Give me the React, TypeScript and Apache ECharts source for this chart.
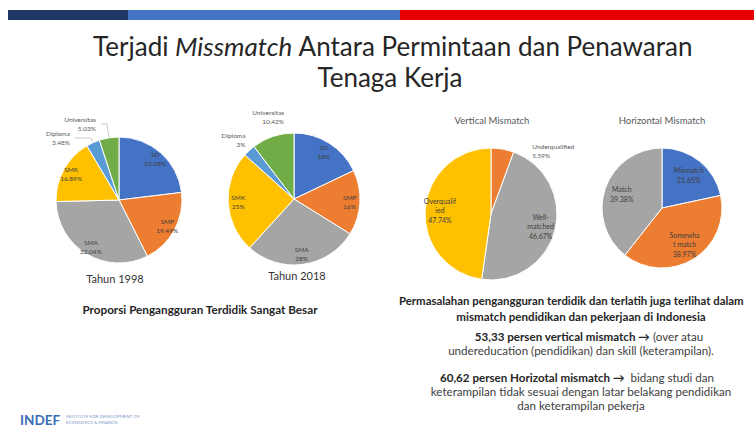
import React, { useEffect, useRef } from "react";
import * as echarts from "echarts";

// ---------- data ----------
const eduNames = ["SD", "SMP", "SMA", "SMK", "Diploma", "Universitas"];
const edu1998Values = [23.08, 19.49, 32.04, 16.89, 3.48, 5.03];
const edu2018Values = [18, 16, 28, 25, 3, 10.42];
const eduColors = ["#4472C4", "#ED7D31", "#A5A5A5", "#FFC000", "#5B9BD5", "#70AD47"];

const vertNames = ["Underqualified", "Well-matched", "Overqualified"];
const vertLabels = ["Underqualified", "Well-\nmatched", "Overqualif\nied"];
const vertValues = [5.59, 46.67, 47.74];
const vertColors = ["#ED7D31", "#A5A5A5", "#FFC000"];

const horzNames = ["Mismatch", "Somewhat match", "Match"];
const horzLabels = ["Mismatch", "Somewha\nt match", "Match"];
const horzValues = [21.65, 38.97, 39.38];
const horzColors = ["#4472C4", "#ED7D31", "#A5A5A5"];

const FONT = "Lato, 'Open Sans', sans-serif";

type Outside = {
  [k: number]: { length: number; length2: number; line: boolean; dx?: number; dy?: number };
};

function buildPie(
  names: string[],
  labels: string[],
  values: number[],
  colors: string[],
  center: [number, number],
  r: number,
  k: number,
  outside: Outside,
  fontSize: number
) {
  const fmt = (p: any) => `${labels[p.dataIndex]}\n${p.value}%`;
  const base = {
    type: "pie",
    center,
    radius: [0, r],
    startAngle: 90,
    clockwise: true,
    silent: true,
    avoidLabelOverlap: false,
    labelLayout: (p: any) => {
      const o = outside[p.dataIndex];
      return { hideOverlap: false, dx: o && o.dx ? o.dx : 0, dy: o && o.dy ? o.dy : 0 };
    },
    itemStyle: { borderColor: "#ffffff", borderWidth: 1 },
    label: { show: false },
    labelLine: { show: false },
    emphasis: { disabled: true },
    data: values.map((v, i) => {
      const o = outside[i];
      return {
        name: names[i],
        value: v,
        itemStyle: { color: colors[i] },
        label: o
          ? {
              show: true,
              position: "outside",
              formatter: fmt,
              fontSize: 6.5,
              lineHeight: 9,
              color: "#595959",
              fontFamily: FONT,
            }
          : { show: false },
        labelLine: o
          ? {
              show: o.line,
              length: o.length,
              length2: o.length2,
              lineStyle: { color: "#a6a6a6", width: 0.6 },
            }
          : { show: false },
      };
    }),
  };
  const overlay = {
    type: "pie",
    center,
    radius: [(2 * k - 1) * r, r],
    startAngle: 90,
    clockwise: true,
    silent: true,
    avoidLabelOverlap: false,
    labelLayout: { hideOverlap: false },
    itemStyle: { color: "rgba(0,0,0,0)", borderWidth: 0 },
    labelLine: { show: false },
    emphasis: { disabled: true },
    data: values.map((v, i) => ({
      name: names[i],
      value: v,
      itemStyle: { color: "rgba(0,0,0,0)" },
      label: outside[i]
        ? { show: false }
        : {
            show: true,
            position: "inside",
            formatter: fmt,
            fontSize,
            lineHeight: fontSize + 2.5,
            color: "#404040",
            fontFamily: FONT,
          },
    })),
  };
  return [base, overlay];
}

function txt(x: number, y: number, text: string, size: number, opts: any = {}) {
  return {
    type: "text",
    x,
    y,
    silent: true,
    style: {
      text,
      fill: opts.fill || "#262626",
      font: `${opts.italic ? "italic " : ""}${opts.bold ? "bold " : ""}${size}px ${FONT}`,
      align: opts.align || "center",
      verticalAlign: "middle",
      rich: opts.rich,
    },
  };
}

export default function App() {
  const ref = useRef<HTMLDivElement>(null);
  useEffect(() => {
    if (!ref.current) return;
    const chart = echarts.init(ref.current, undefined, { renderer: "svg" });
    const series = [
      ...buildPie(eduNames, eduNames, edu1998Values, eduColors, [119, 200], 63, 0.82,
        { 4: { length: 5, length2: 16, line: true }, 5: { length: 14, length2: 6, line: true } }, 6.5),
      ...buildPie(eduNames, eduNames, edu2018Values, eduColors, [294, 199], 66, 0.8,
        {
          4: { length: 10, length2: 2, line: false, dx: 10, dy: -3 },
          5: { length: 12, length2: 0, line: false, dx: 20, dy: -8 },
        }, 6.5),
      ...buildPie(vertNames, vertLabels, vertValues, vertColors, [491, 214], 66, 0.73,
        { 0: { length: 4, length2: 30, line: false, dx: -6, dy: 6 } }, 7),
      ...buildPie(horzNames, horzLabels, horzValues, horzColors, [662, 208], 60, 0.66, {}, 7),
    ];
    const richB = {
      b: { font: `bold 11.6px ${FONT}`, fill: "#262626" },
      n: { font: `11.6px ${FONT}`, fill: "#404040" },
    };
    const CX = 581;
    chart.setOption({
      animation: false,
      backgroundColor: "#ffffff",
      series,
      graphic: [
        { type: "rect", shape: { x: 8, y: 10, width: 120, height: 10 }, style: { fill: "#1F3864" }, silent: true },
        { type: "rect", shape: { x: 128, y: 10, width: 272, height: 10 }, style: { fill: "#4472C4" }, silent: true },
        { type: "rect", shape: { x: 400, y: 10, width: 354, height: 10 }, style: { fill: "#E60000" }, silent: true },
        {
          type: "text",
          x: 393,
          y: 46,
          silent: true,
          style: {
            text: "{a|Terjadi }{i|Missmatch}{a| Antara Permintaan dan Penawaran}",
            align: "center",
            verticalAlign: "middle",
            rich: {
              a: { font: `26px ${FONT}`, fill: "#262626" },
              i: { font: `italic 26px ${FONT}`, fill: "#262626" },
            },
          },
        },
        txt(390, 77, "Tenaga Kerja", 26),
        txt(115, 278, "Tahun 1998", 11, { fill: "#333333" }),
        txt(297, 275, "Tahun 2018", 11, { fill: "#333333" }),
        txt(492, 120, "Vertical Mismatch", 9.5, { fill: "#595959" }),
        txt(662, 120, "Horizontal Mismatch", 9.5, { fill: "#595959" }),
        txt(200, 309, "Proporsi Pengangguran Terdidik Sangat Besar", 11.7, { bold: true }),
        txt(399, 300, "Permasalahan pengangguran terdidik dan terlatih juga terlihat dalam", 11.4, { bold: true, align: "left" }),
        txt(CX, 316, "mismatch pendidikan dan pekerjaan di Indonesia", 11.6, { bold: true }),
        {
          type: "text", x: CX + 8, y: 336, silent: true,
          style: { text: "{b|53,33 persen vertical mismatch →}{n| (over atau}", align: "center", verticalAlign: "middle", rich: richB },
        },
        txt(CX, 350, "undereducation (pendidikan) dan skill (keterampilan).", 11.6, { fill: "#404040" }),
        {
          type: "text", x: CX - 4, y: 377, silent: true,
          style: { text: "{b|60,62 persen Horizotal mismatch →}{n|  bidang studi dan}", align: "center", verticalAlign: "middle", rich: richB },
        },
        txt(CX, 391, "keterampilan tidak sesuai dengan latar belakang pendidikan", 11.6, { fill: "#404040" }),
        txt(CX, 405, "dan keterampilan pekerja", 11.6, { fill: "#404040" }),
        txt(20, 420, "INDEF", 13.5, { bold: true, fill: "#3A6DB5", align: "left" }),
        txt(66, 416.5, "INSTITUTE FOR DEVELOPMENT OF", 4.5, { fill: "#7F9CC9", align: "left" }),
        txt(66, 422.5, "ECONOMICS & FINANCE", 4.5, { fill: "#7F9CC9", align: "left" }),
      ],
    });
    return () => chart.dispose();
  }, []);
  return (
    <div
      ref={ref}
      style={{ position: "fixed", left: 0, top: 0, width: 754, height: 429, background: "#fff" }}
    />
  );
}
